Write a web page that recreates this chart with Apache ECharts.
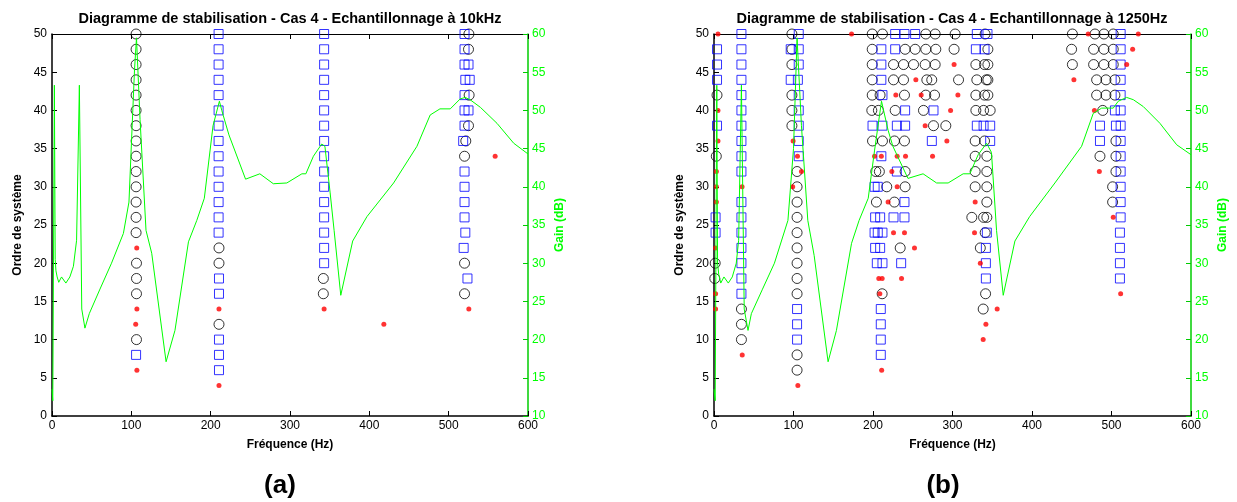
<!DOCTYPE html>
<html>
<head>
<meta charset="utf-8">
<script src="https://cdn.jsdelivr.net/npm/echarts@6/dist/echarts.min.js"></script>
<style>
html,body{margin:0;padding:0;background:#fff;}
#c{width:1237px;height:502px;}
</style>
</head>
<body>
<div id="c"></div>
<script>
// ---------- Titles / labels ----------
const titleA = 'Diagramme de stabilisation - Cas 4 - Echantillonnage à 10kHz';
const titleB = 'Diagramme de stabilisation - Cas 4 - Echantillonnage à 1250Hz';
const panelLabels = ['(a)', '(b)'];
const xName = 'Fréquence (Hz)';
const yLeftName = 'Ordre de système';
const yRightName = 'Gain (dB)';

// ---------- Plot (a) : [frequency Hz, order] ----------
const aCircles = [
  [106,50],[106,48],[106,46],[106,44],[106,42],[106,40],[106,38],[106,36],[106,34],[106,32],[106,30],[106,28],[106,26],[106,24],
  [106.5,20],[106.5,18],[106.5,16],[106.5,10],
  [210.5,22],[210.5,20],[210.5,12],
  [342,18],[342,16],
  [525.5,50],[525,48],[525.8,42],[525,38],[521.6,36],[520,34],[520,20],[520,16]
];
const aSquares = [
  [106,8],
  [210,50],[210,48],[210,46],[210,44],[210,42],[210,40],[210,38],[210,36],[210,34],[210,32],[210,30],[210,28],[210,26],[210,24],
  [210.5,18],[210.5,16],[210.5,10],[210.5,8],[210.5,6],
  [343,50],[343,48],[343,46],[343,44],[343,42],[343,40],[343,38],[343,36],[343,34],[343,32],[343,30],[343,28],[343,26],[343,24],[343,22],[343,20],
  [520,50],[520,48],[520,46],[525,46],[521,44],[526.5,44],[520,42],[520,40],[525,40],[520,38],[518.3,36],
  [520,32],[520,30],[520,28],[520,26],[521,24],[518.9,22],[523.7,18]
];
const aRed = [
  [106.8,22],[107,14],[105.5,12],[107,6],
  [210.5,14],[210.5,4],
  [343,14],[418.3,12],[558.6,34],[525.4,14]
];
const aGain = [
  [0,13.5],[1,12],[3,53.3],[4,30.5],[5,29],[6.5,28.2],[8.5,27.5],[12,28.2],[17.5,27.4],[22.5,28.2],[27,29.6],[31,33],
  [34.5,53.3],[37.5,24],[41.5,21.5],[47,23.4],[60,26.5],[75,30],[90,33.9],[97,38],[104,55.3],[106.5,59.5],[111,48.8],
  [118.5,34.3],[125.7,31.3],[143.8,17.1],[155,21.2],[172,32.8],[182.5,35.6],[192,38.5],[203,48],[211,51.2],[214,50],
  [223,46.8],[244,41],[262,41.7],[279,40.4],[296,40.5],[315,41.7],[320,41.7],[329.5,44],[340,45.6],[344,45.3],
  [350.6,39.2],[355.6,34.3],[364,25.8],[379,32.9],[397,36.1],[430.6,40.5],[460,45.3],[476.7,49.4],[489,50.2],
  [502,50.2],[514.5,51.5],[520.8,51.7],[527,51.4],[540,50.4],[561,48.3],[582,45.7],[600,44.3]
];

// ---------- Plot (b) : [frequency Hz, order] ----------
const bCircles = [
  [3.8,42],[2.9,34],[1.5,20],[1,18],
  [34.5,14],[34.5,12],[34.5,10],
  [98,50],[98,48],[98,46],[98,42],[98,40],[98,38],
  [104.5,32],[104.5,30],[104.5,28],[104.5,26],[104.5,24],[104.5,22],[104.5,20],[104.5,18],[104.5,16],[104.5,8],[104.5,6],
  [199,50],[211.9,50],[266.4,50],[278.2,50],[303.3,50],[341,50],
  [199,48],[240.4,48],[253,48],[266.4,48],[279,48],[302,48],[344.5,48],
  [199,46],[225.8,46],[238.4,46],[251,46],[265.6,46],[278.2,46],[329.4,46],[340.3,46],[344.5,46],
  [199,44],[225.8,44],[238.4,44],[267.7,44],[273.9,44],[307.6,44],[330.6,44],[342.5,44],[344.5,44],
  [199,42],[208.9,42],[239.6,42],[266.4,42],[277.4,42],[329.4,42],[340.3,42],[344.5,42],
  [198.5,40],[206.8,40],[227.9,40],[263.5,40],[329.4,40],[339.1,40],[347.4,40],
  [276.1,38],[291.6,38],
  [199.4,36],[211.9,36],[227,36],[239.6,36],[328.5,36],[340.3,36],
  [328.5,34],[343.2,34],
  [203.5,32],[208,32],[240.4,32],[328.5,32],[343.2,32],
  [217.3,30],[240.4,30],[328.5,30],[343.2,30],
  [204.3,28],[226.9,28],[343.2,28],
  [324.3,26],[339.1,26],[343.2,26],
  [341.1,24],[234.2,22],[335,22],[211.5,16],[341.6,16],[338.6,14],
  [450.8,50],[479.2,50],[490.5,50],[502.2,50],
  [449.8,48],[477.5,48],[490.5,48],[502.2,48],
  [450.8,46],[477.5,46],[490.5,46],[502.2,46],
  [481.3,44],[493,44],[504.3,44],
  [481.3,42],[493,42],[504.3,42],
  [489,40],[505.6,36],[485.5,34],[505.6,34],[505.6,32],[501.4,30],[501.4,28]
];
const bSquares = [
  [3.8,48],[3.8,46],[3.8,44],[3.8,38],[2,26],[2,24],
  [34.5,50],[34.5,48],[34.5,46],[34.5,44],[34.5,42],[34.5,40],[34.5,38],[34.5,36],[34.5,34],[34.5,32],
  [34.5,28],[34.5,26],[34.5,24],[34.5,22],[34.5,20],[34.5,18],[34.5,16],
  [106.6,50],[96.5,48],[106.6,48],[106.6,46],[96.5,44],[105.5,44],[106.6,42],[106.6,40],[106.6,38],[106.6,36],[106.6,34],
  [104.5,14],[104.5,12],[104.5,10],
  [227.9,50],[239.6,50],[253,50],[330.6,50],[344,50],
  [210.5,48],[227.9,48],[329.4,48],[340.3,48],
  [210.5,46],[210.5,44],[211.9,42],
  [240.4,40],[276.1,40],
  [199.4,38],[211.9,38],[230,38],[240.4,38],[330.6,38],[339.1,38],[347.4,38],
  [274,36],[347.4,36],
  [210.5,34],[230,32],[202,30],[206,30],[239.6,28],
  [202.7,26],[209,26],[225.8,26],[239.6,26],
  [202,24],[206,24],[211.9,24],[343.2,24],
  [202.7,22],[209,22],[342,22],
  [204.8,20],[211.9,20],[235.4,20],[342,20],
  [342,18],
  [209.8,14],[209.8,12],[209.8,10],[209.8,8],
  [511.5,50],[511.5,48],[511.5,46],[511.5,44],[511.5,42],[511.5,40],[511.5,38],[511.5,36],[511.5,34],
  [511.5,32],[511.5,30],[511.5,28],[511.5,26],[510.6,24],[510.6,22],[510.6,20],[510.6,18],
  [504.3,40],[485.5,38],[505.6,38],[485.5,36]
];
const bRed = [
  [5,50],[5,40],[5,36],[3,32],[3,30],[3,28],[2,22],[2,16],[2,14],
  [35.3,30],[35.5,8],
  [99.5,36],[105,34],[110,32],[99,30],[105.5,4],
  [173,50],
  [302,46],[253.9,44],[228.7,42],[260.6,42],[306.8,42],[297.6,40],[265.6,38],[292.9,36],
  [201.9,34],[210.5,34],[230.4,34],[240.9,34],[274.9,34],
  [223.7,32],[230.4,30],[219,28],[328.5,28],
  [225.8,24],[239.6,24],[327.7,24],[252.2,22],[335,20],
  [207.3,18],[211.5,18],[235.9,18],[208.6,16],[356.2,14],[342,12],[338.6,10],[210.9,6],
  [470.7,50],[533.7,50],[526.6,48],[519.1,46],[452.7,44],[478.5,40],[484.7,32],[502.2,26],[511.5,16]
];
const bGain = [
  [0,13.5],[1.5,12],[3.5,53.3],[4.5,30],[6,28.5],[8.5,27.4],[12.5,28.2],[18,27.4],[23,28.2],[28,30],[31,33],
  [34.5,53.3],[38,24],[42.8,21.2],[47,23.4],[61,26.6],[76,30],[93,35.6],[100,45],[104.5,59.5],[110,48],
  [118,35.6],[126,31],[143.5,17.1],[154,21.2],[173,32.6],[182.5,35.6],[194,38.5],[202,44.8],[210.7,51.2],
  [219,47.4],[225,45.3],[244,41.1],[263,41.7],[280,40.5],[294.5,40.5],[313.4,41.7],[321.8,41.7],[332.3,44.2],
  [342.9,45.7],[349,44.5],[355.4,34.3],[363.8,25.8],[378.5,32.9],[397,36.1],[428.8,40.5],[462.4,45.3],
  [477,49.6],[487.6,50.3],[502.2,50.3],[508.5,51.2],[519,51.7],[527.5,51.4],[540,50.5],[561,48.3],[582,45.5],[600,44.2]
];

// ---------- Axis ranges / ticks ----------
const freqRange = [0, 600, 100];
const orderRange = [0, 50, 5];
const gainRange = [10, 60, 5];

const FONT = "'Liberation Sans', Arial, sans-serif";
const GREEN = '#00ff00';
const GREEN_AXIS = '#00cc00';

const chart = echarts.init(document.getElementById('c'), null, {renderer: 'canvas'});

function xAxes(grid) {
  return [
    {
      type: 'value', gridIndex: grid, position: 'bottom',
      min: freqRange[0], max: freqRange[1], interval: freqRange[2],
      name: xName, nameLocation: 'middle', nameGap: 23,
      nameTextStyle: {fontFamily: FONT, fontWeight: 'bold', fontSize: 12, color: '#000'},
      axisLine: {show: true, onZero: false, lineStyle: {color: '#000', width: 1.5}},
      axisTick: {show: true, inside: true, length: 5, lineStyle: {color: '#000'}},
      axisLabel: {fontFamily: FONT, fontSize: 12, color: '#000', margin: 4},
      splitLine: {show: false}
    },
    {
      type: 'value', gridIndex: grid, position: 'top',
      min: freqRange[0], max: freqRange[1], interval: freqRange[2],
      axisLine: {show: true, onZero: false, lineStyle: {color: '#000', width: 1.2}},
      axisTick: {show: true, inside: true, length: 5, lineStyle: {color: '#000'}},
      axisLabel: {show: false},
      splitLine: {show: false}
    }
  ];
}
function yAxes(grid) {
  return [
    {
      type: 'value', gridIndex: grid, position: 'left',
      min: orderRange[0], max: orderRange[1], interval: orderRange[2],
      name: yLeftName, nameLocation: 'middle', nameGap: 28, nameRotate: 90,
      nameTextStyle: {fontFamily: FONT, fontWeight: 'bold', fontSize: 12, color: '#000'},
      axisLine: {show: true, onZero: false, lineStyle: {color: '#000', width: 1.5}},
      axisTick: {show: true, inside: true, length: 5, lineStyle: {color: '#000'}},
      axisLabel: {fontFamily: FONT, fontSize: 12, color: '#000', margin: 5},
      splitLine: {show: false}
    },
    {
      type: 'value', gridIndex: grid, position: 'right',
      min: gainRange[0], max: gainRange[1], interval: gainRange[2],
      name: yRightName, nameLocation: 'middle', nameGap: 26, nameRotate: 90,
      nameTextStyle: {fontFamily: FONT, fontWeight: 'bold', fontSize: 12, color: GREEN},
      axisLine: {show: true, onZero: false, lineStyle: {color: GREEN_AXIS, width: 1.5}},
      axisTick: {show: true, inside: true, length: 5, lineStyle: {color: GREEN_AXIS}},
      axisLabel: {fontFamily: FONT, fontSize: 12, color: GREEN, margin: 4},
      splitLine: {show: false}
    }
  ];
}

function scatterSet(xi, yi, circles, squares, reds) {
  return [
    {
      type: 'scatter', xAxisIndex: xi, yAxisIndex: yi, data: circles,
      symbol: 'circle', symbolSize: 10, silent: true,
      itemStyle: {color: 'rgba(0,0,0,0)', borderColor: '#000', borderWidth: 1}, z: 3
    },
    {
      type: 'scatter', xAxisIndex: xi, yAxisIndex: yi, data: squares,
      symbol: 'rect', symbolSize: 9, silent: true,
      itemStyle: {color: 'rgba(0,0,0,0)', borderColor: '#0000ff', borderWidth: 1}, z: 3
    },
    {
      type: 'scatter', xAxisIndex: xi, yAxisIndex: yi, data: reds,
      symbol: 'circle', symbolSize: 5, silent: true,
      itemStyle: {color: '#ff0000'}, z: 4
    }
  ];
}
function gainLine(xi, yi, data) {
  return {
    type: 'line', xAxisIndex: xi, yAxisIndex: yi, data: data,
    showSymbol: false, symbol: 'none', silent: true, clip: true,
    lineStyle: {color: GREEN, width: 1}, z: 5
  };
}

function centeredText(text, x, y, size) {
  return {
    type: 'text', x: x, y: y, silent: true,
    style: {text: text, fontFamily: FONT, fontWeight: 'bold', fontSize: size,
            fill: '#000', textAlign: 'center', textVerticalAlign: 'middle'}
  };
}

const option = {
  animation: false,
  backgroundColor: '#fff',
  graphic: [
    centeredText(titleA, 290, 18.5, 14.5),
    centeredText(titleB, 952, 18.5, 14.5),
    centeredText(panelLabels[0], 280, 486, 26),
    centeredText(panelLabels[1], 943, 486, 26)
  ],
  grid: [
    {left: 52, right: 709, top: 34, bottom: 86, containLabel: false},
    {left: 714, right: 46, top: 34, bottom: 86, containLabel: false}
  ],
  xAxis: [].concat(xAxes(0), xAxes(1)),
  yAxis: [].concat(yAxes(0), yAxes(1)),
  series: [].concat(
    scatterSet(0, 0, aCircles, aSquares, aRed),
    [gainLine(0, 1, aGain)],
    scatterSet(2, 2, bCircles, bSquares, bRed),
    [gainLine(2, 3, bGain)]
  )
};
chart.setOption(option);
</script>
</body>
</html>
